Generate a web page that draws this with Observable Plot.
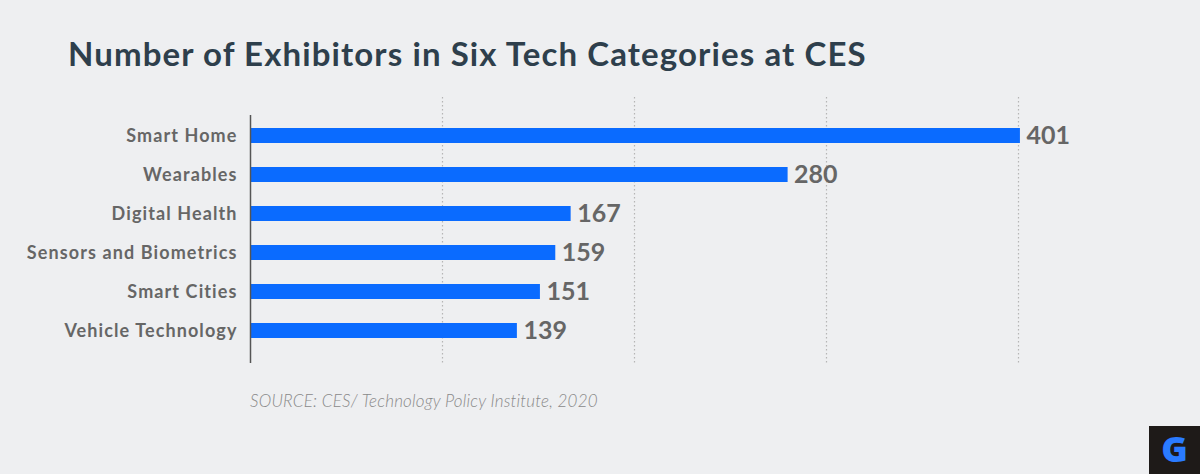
<!DOCTYPE html>
<html>
<head>
<meta charset="utf-8">
<script src="https://cdn.jsdelivr.net/npm/d3@7"></script>
<script src="https://cdn.jsdelivr.net/npm/@observablehq/plot@0.6"></script>
<style>
  html, body { margin: 0; padding: 0; background: #eeeff1; }
  #wrap { position: relative; width: 1200px; height: 474px; overflow: hidden; background: #eeeff1; font-family: Lato, "Noto Sans", sans-serif; }
  #title { position: absolute; left: 68px; top: 37px; font-size: 33px; line-height: 32px; font-weight: 700; letter-spacing: 1.1px; color: #2e3f4c; white-space: nowrap; }
  #chart { position: absolute; left: 0; top: 90px; }
  #chart svg g[aria-label="y-axis tick label"] text { letter-spacing: 1.1px; }
  #source { position: absolute; left: 250px; top: 392px; font-size: 17px; line-height: 17px; font-style: italic; font-weight: 300; letter-spacing: 0.2px; color: #8a8a8a; white-space: nowrap; }
  #logo { position: absolute; left: 1149px; top: 426px; width: 51px; height: 48px; background: #1e1a18; color: #2a7bff; font-weight: 900; font-size: 36px; line-height: 46px; text-align: center; font-family: "Open Sans", Lato, sans-serif; }
</style>
</head>
<body>
<div id="wrap">
  <div id="title"></div>
  <div id="chart"></div>
  <div id="source"></div>
  <div id="logo">G</div>
</div>
<script>
const titleText = "Number of Exhibitors in Six Tech Categories at CES";
const sourceText = "SOURCE: CES/ Technology Policy Institute, 2020";
const categories = ["Smart Home", "Wearables", "Digital Health", "Sensors and Biometrics", "Smart Cities", "Vehicle Technology"];
const exhibitors = [401, 280, 167, 159, 151, 139];
const gridTicks = [100, 200, 300, 400];

document.getElementById("title").textContent = titleText;
document.getElementById("source").textContent = sourceText;

const data = categories.map((c, i) => ({category: c, value: exhibitors[i]}));

const chart = Plot.plot({
  width: 1200,
  height: 290,
  marginTop: 7,
  marginBottom: 17,
  marginLeft: 250,
  marginRight: 86,
  style: {background: "transparent", fontFamily: "Lato, 'Noto Sans', sans-serif", overflow: "visible"},
  x: {domain: [0, 450], axis: null},
  y: {domain: categories, paddingInner: 0.604, paddingOuter: 0.703, align: 0.559, label: null},
  marks: [
    Plot.ruleX(gridTicks, {stroke: "#b5b5b5", strokeWidth: 1.2, strokeDasharray: "1.5,2.5"}),
    Plot.barX(data, {y: "category", x: "value", fill: "#0a6bff"}),
    Plot.ruleX([0], {stroke: "#555", strokeWidth: 1.5, insetTop: 18}),
    Plot.axisY({tickSize: 0, tickPadding: 13, fontSize: 18, fontWeight: 700, fill: "#666", label: null}),
    Plot.text(data, {y: "category", x: "value", text: d => String(d.value), textAnchor: "start", dx: 6, fontSize: 25, fontWeight: 700, fill: "#666"})
  ]
});
document.getElementById("chart").appendChild(chart);
</script>
</body>
</html>
